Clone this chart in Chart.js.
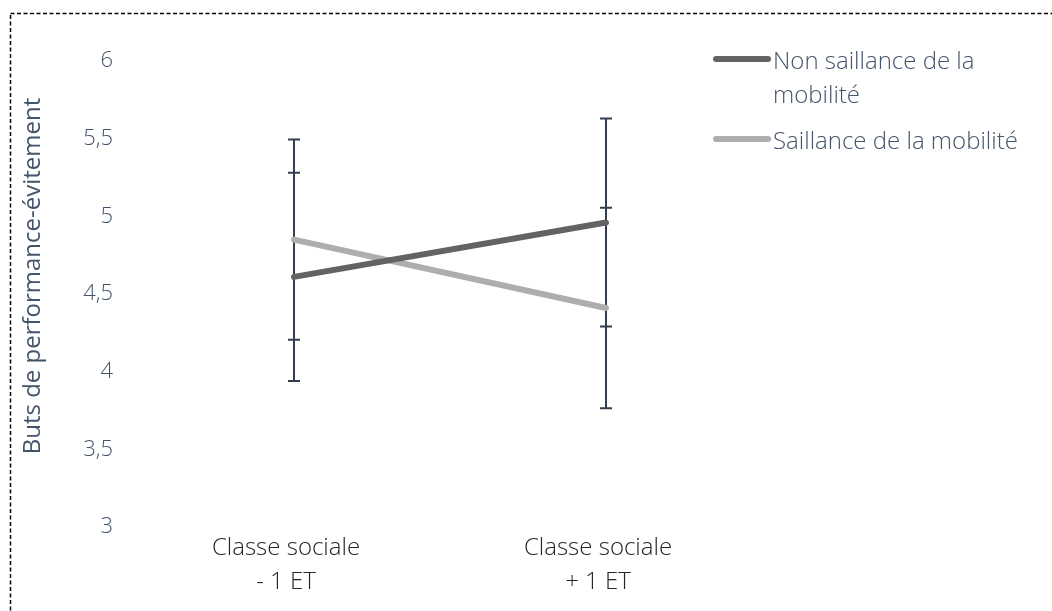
<!DOCTYPE html>
<html>
<head>
<meta charset="utf-8">
<script src="https://cdn.jsdelivr.net/npm/chart.js@4.4.0/dist/chart.umd.min.js"></script>
<style>
  html, body { margin: 0; padding: 0; background: #fff; }
  #wrap { width: 1052px; height: 611px; }
</style>
</head>
<body>
<div id="wrap"><canvas id="graphique" width="1052" height="611"></canvas></div>
<script>
/* Données du graphique */
const categories = [['Classe sociale', '- 1 ET'], ['Classe sociale', '+ 1 ET']];
const seriesNames = ['Non saillance de la mobilité', 'Saillance de la mobilité'];
const nonSaillance = [4.61, 4.96];
const saillance = [4.85, 4.41];
const errNonSaillance = [0.67, 0.67];
const errSaillance = [0.645, 0.645];
const yMin = 3, yMax = 6, yStep = 0.5;
const yTitle = 'Buts de performance-évitement';

const couleurs = ['#636363', '#AEAEAE'];
const police = "'Open Sans', 'Noto Sans', sans-serif";

// Barres d'erreur dessinées avant les lignes
const barresErreur = {
  id: 'barresErreur',
  beforeDatasetsDraw(chart) {
    const ctx = chart.ctx;
    const x = chart.scales.x, y = chart.scales.y;
    ctx.save();
    ctx.strokeStyle = '#333F50';
    ctx.lineWidth = 2;
    chart.data.datasets.forEach(ds => {
      ds.data.forEach((v, i) => {
        const px = Math.round(x.getPixelForValue(i));
        const haut = y.getPixelForValue(v + ds.erreurs[i]);
        const bas = y.getPixelForValue(v - ds.erreurs[i]);
        ctx.beginPath();
        ctx.moveTo(px, haut); ctx.lineTo(px, bas);
        ctx.moveTo(px - 6, haut); ctx.lineTo(px + 6, haut);
        ctx.moveTo(px - 6, bas); ctx.lineTo(px + 6, bas);
        ctx.stroke();
      });
    });
    ctx.restore();
  }
};

// Cadre pointillé, titre de l'axe Y et légende
const decor = {
  id: 'decor',
  afterDraw(chart) {
    const ctx = chart.ctx;
    ctx.save();
    ctx.strokeStyle = '#000';
    ctx.lineWidth = 1.5;
    ctx.setLineDash([4, 2.5]);
    ctx.strokeRect(10.5, 13.5, 1100, 700);
    ctx.setLineDash([]);

    // titre de l'axe Y
    ctx.translate(33, 276);
    ctx.rotate(-Math.PI / 2);
    ctx.fillStyle = '#44546A';
    ctx.font = '24px ' + police;
    ctx.textAlign = 'center';
    ctx.textBaseline = 'middle';
    ctx.fillText(yTitle, 0, 0);
    ctx.restore();

    // légende
    ctx.save();
    ctx.font = '300 24px ' + police;
    ctx.textBaseline = 'middle';
    ctx.fillStyle = '#44546A';
    let yPos = 62;
    chart.data.datasets.forEach((ds, i) => {
      ctx.strokeStyle = ds.borderColor;
      ctx.lineWidth = 6;
      ctx.lineCap = 'round';
      ctx.beginPath();
      ctx.moveTo(716, yPos - 3);
      ctx.lineTo(768, yPos - 3);
      ctx.stroke();
      // découpage du texte
      const mots = ds.label.split(' ');
      const lignes = [];
      let ligne = '';
      mots.forEach(m => {
        const essai = ligne ? ligne + ' ' + m : m;
        if (ctx.measureText(essai).width > 250 && ligne) { lignes.push(ligne); ligne = m; }
        else ligne = essai;
      });
      lignes.push(ligne);
      lignes.forEach((l, k) => ctx.fillText(l, 773, yPos + k * 34));
      yPos += (lignes.length - 1) * 34 + 46;
    });
    ctx.restore();
  }
};

new Chart(document.getElementById('graphique'), {
  type: 'line',
  data: {
    labels: categories,
    datasets: [
      { label: seriesNames[0], data: nonSaillance, erreurs: errNonSaillance,
        borderColor: couleurs[0], borderWidth: 6, borderCapStyle: 'round', pointRadius: 0, tension: 0 },
      { label: seriesNames[1], data: saillance, erreurs: errSaillance,
        borderColor: couleurs[1], borderWidth: 6, borderCapStyle: 'round', pointRadius: 0, tension: 0 }
    ]
  },
  options: {
    responsive: false,
    animation: false,
    devicePixelRatio: 1,
    layout: { padding: { top: 61, right: 290, left: 0, bottom: 0 } },
    plugins: { legend: { display: false }, tooltip: { enabled: false } },
    scales: {
      x: {
        offset: true,
        grid: { display: false, drawTicks: false },
        border: { display: false },
        ticks: { color: '#262626', font: { family: police, size: 24, weight: 300, lineHeight: 1.42 }, padding: 4, labelOffset: -8, maxRotation: 0 },
        afterFit(s) { s.height = 84; }
      },
      y: {
        min: yMin, max: yMax,
        grid: { display: false, drawTicks: false },
        border: { display: false },
        ticks: {
          stepSize: yStep, color: '#44546A', padding: 25,
          font: { family: police, size: 22, weight: 300 },
          callback: v => String(v).replace('.', ',')
        },
        afterFit(s) { s.width = 138; }
      }
    }
  },
  plugins: [barresErreur, decor]
});
</script>
</body>
</html>
